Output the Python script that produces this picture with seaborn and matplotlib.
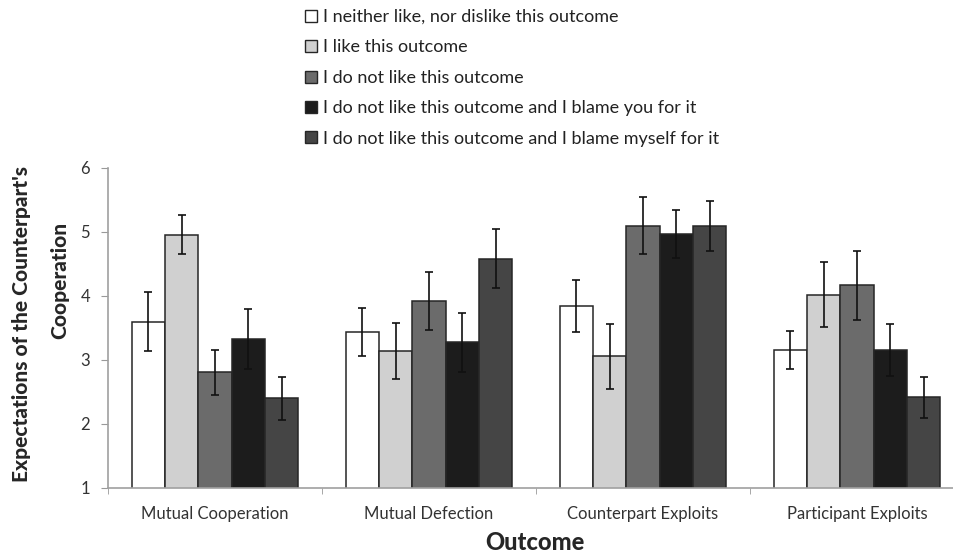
import pandas as pd
import numpy as np
import matplotlib.pyplot as plt
import seaborn as sns
from matplotlib.patches import Patch

sns.set_style("white")
plt.rcParams['font.family'] = ['Lato', 'DejaVu Sans']

# data
outcomes = ['Mutual Cooperation', 'Mutual Defection', 'Counterpart Exploits', 'Participant Exploits']
responses = ['I neither like, nor dislike this outcome',
             'I like this outcome',
             'I do not like this outcome',
             'I do not like this outcome and I blame you for it',
             'I do not like this outcome and I blame myself for it']
neutral = [3.60, 3.44, 3.84, 3.16]
like = [4.96, 3.14, 3.06, 4.02]
dislike = [2.81, 3.92, 5.10, 4.17]
blame_you = [3.33, 3.28, 4.97, 3.16]
blame_self = [2.40, 4.58, 5.10, 2.42]
err_neutral = [0.46, 0.37, 0.41, 0.30]
err_like = [0.31, 0.44, 0.51, 0.51]
err_dislike = [0.35, 0.45, 0.45, 0.54]
err_blame_you = [0.47, 0.46, 0.38, 0.41]
err_blame_self = [0.34, 0.46, 0.39, 0.32]

colors = ['#ffffff', '#d0d0d0', '#6b6b6b', '#1c1c1c', '#454545']
edge = '#262626'
fs = 12

means = [neutral, like, dislike, blame_you, blame_self]
errs = [err_neutral, err_like, err_dislike, err_blame_you, err_blame_self]
rows = []
for r, m, e in zip(responses, means, errs):
    for o, v, s in zip(outcomes, m, e):
        rows.append({'Outcome': o, 'Response': r, 'mean': v, 'err': s})
df = pd.DataFrame(rows)

fig = plt.figure(figsize=(9.54, 5.56), dpi=100)
ax = fig.add_axes([108/954, 1-488/556, (964-108)/954, (488-168)/556])

sns.barplot(data=df, x='Outcome', y='mean', hue='Response', hue_order=responses,
            order=outcomes, palette=colors, width=0.78, edgecolor=edge, linewidth=1.1,
            errorbar=None, legend=False, ax=ax)

# error bars at bar centres
for cont, r in zip(ax.containers, responses):
    sub = df[df['Response'] == r].set_index('Outcome').loc[outcomes]
    xs = [p.get_x() + p.get_width()/2 for p in cont.patches]
    ax.errorbar(xs, sub['mean'], yerr=sub['err'], fmt='none', ecolor='#111111',
                elinewidth=1.2, capsize=3, capthick=1.2)

ax.set_ylim(1, 6)
ax.set_xlim(-0.5, 3.5)
ax.set_yticks([1, 2, 3, 4, 5, 6])
ax.set_xticks(np.arange(-0.5, 4, 1), minor=True)
ax.tick_params(axis='x', which='major', length=0, pad=13, labelsize=fs, labelcolor='#333333')
ax.tick_params(axis='x', which='minor', length=4, direction='out', color='#999999', bottom=True)
ax.tick_params(axis='y', length=5, direction='out', color='#999999', left=True,
               labelsize=fs, labelcolor='#333333', pad=8)
sns.despine(ax=ax)
for s in ['left', 'bottom']:
    ax.spines[s].set_color('#a0a0a0')
    ax.spines[s].set_linewidth(1.2)
ax.set_xlabel('')
ax.set_ylabel('')

fig.text(535/954, 1-543/556, 'Outcome', ha='center', va='center', fontsize=17, fontweight='black')
fig.text(22/954, 1-324/556, "Expectations of the Counterpart's", rotation=90,
         ha='center', va='center', fontsize=15, fontweight='black')
fig.text(60/954, 1-280/556, 'Cooperation', rotation=90,
         ha='center', va='center', fontsize=15, fontweight='black')

handles = [Patch(facecolor=c, edgecolor=edge, linewidth=1, label=r) for c, r in zip(colors, responses)]
fig.legend(handles=handles, loc='upper left', bbox_to_anchor=(296/954, 1.0),
           frameon=False, fontsize=13, handlelength=0.65, handleheight=0.65,
           handletextpad=0.35, labelspacing=0.8, borderpad=0, labelcolor='#222222')

plt.savefig('out.png', dpi=100)
